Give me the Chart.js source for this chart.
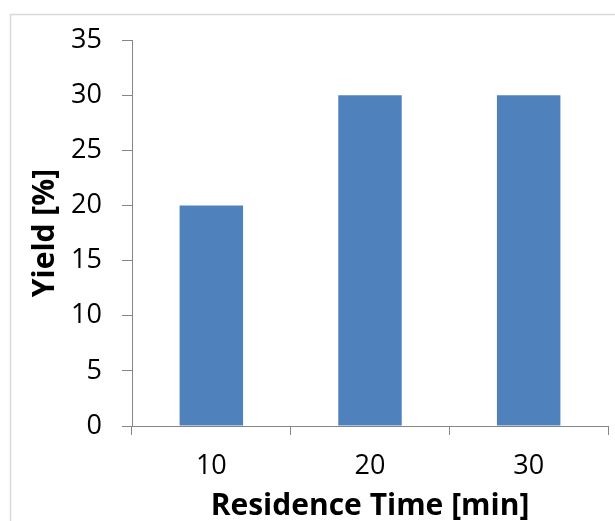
<!DOCTYPE html>
<html>
<head>
<script src="https://cdn.jsdelivr.net/npm/chart.js"></script>
<style>
  body { margin: 0; background: #fff; }
</style>
</head>
<body>
<canvas id="myChart" width="615" height="521"></canvas>
<script>
  const times = ['10', '20', '30'];
  const yields = [20, 30, 30];
  const yTicks = [0, 5, 10, 15, 20, 25, 30, 35];

  const axisColor = '#868686';
  const font = 'Open Sans';

  // light grey frame round the chart, runs off the right and bottom edges
  const framePlugin = {
    id: 'frame',
    beforeDraw(chart) {
      const c = chart.ctx;
      c.save();
      c.fillStyle = '#fff';
      c.fillRect(0, 0, chart.width, chart.height);
      c.strokeStyle = '#d9d9d9';
      c.lineWidth = 1.5;
      c.strokeRect(10.5, 14.5, 1000, 1000);
      c.restore();
    }
  };

  new Chart(document.getElementById('myChart'), {
    type: 'bar',
    data: {
      labels: times,
      datasets: [{
        data: yields,
        backgroundColor: '#4F81BD',
        categoryPercentage: 1,
        barPercentage: 0.4
      }]
    },
    plugins: [framePlugin],
    options: {
      responsive: false,
      animation: false,
      layout: { padding: { left: 18, right: 7, top: 40, bottom: 0 } },
      plugins: { legend: { display: false }, tooltip: { enabled: false } },
      scales: {
        x: {
          grid: { drawOnChartArea: false, tickLength: 9, color: axisColor, offset: true },
          border: { color: axisColor, width: 1 },
          ticks: { color: '#000', font: { family: font, size: 27 }, padding: 15 },
          title: {
            display: true, text: 'Residence Time [min]', color: '#000',
            font: { family: font, size: 30, weight: 'bold' }, padding: { top: 0, bottom: -3 }
          },
          afterFit(s) { s.height = 95; }
        },
        y: {
          min: 0, max: 35,
          afterBuildTicks(s) { s.ticks = yTicks.map(v => ({ value: v })); },
          grid: { drawOnChartArea: false, tickLength: 10, color: axisColor },
          border: { color: axisColor, width: 1 },
          ticks: { color: '#000', font: { family: font, size: 27 }, padding: 20 },
          title: {
            display: true, text: 'Yield [%]', color: '#000',
            font: { family: font, size: 30, weight: 'bold' }, padding: { top: 9, bottom: 0 }
          },
          afterFit(s) { s.width = 114; }
        }
      }
    }
  });
</script>
</body>
</html>
